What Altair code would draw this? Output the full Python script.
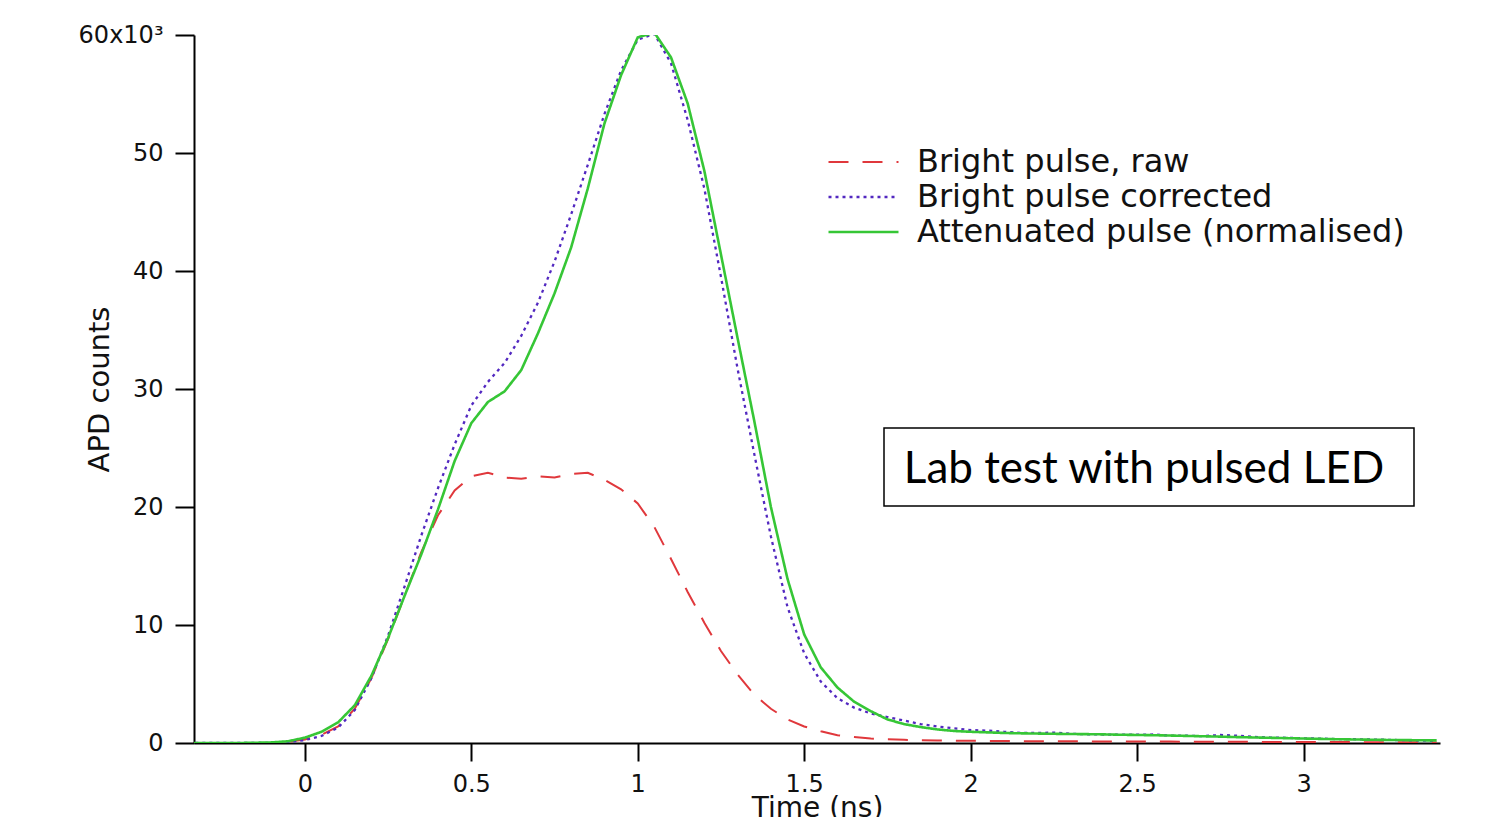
import altair as alt
import pandas as pd

# ---- data (counts in units of 10^3) ----
time_ns = [-0.35, -0.30, -0.25, -0.20, -0.15, -0.10, -0.05, 0.00, 0.05, 0.10,
           0.15, 0.20, 0.25, 0.30, 0.35, 0.40, 0.45, 0.50, 0.55, 0.60,
           0.65, 0.70, 0.75, 0.80, 0.85, 0.90, 0.95, 1.00, 1.05, 1.10,
           1.15, 1.20, 1.25, 1.30, 1.35, 1.40, 1.45, 1.50, 1.55, 1.60,
           1.65, 1.70, 1.75, 1.80, 1.85, 1.90, 1.95, 2.00, 2.05, 2.10,
           2.15, 2.20, 2.25, 2.30, 2.35, 2.40, 2.45, 2.50, 2.55, 2.60,
           2.65, 2.70, 2.75, 2.80, 2.85, 2.90, 2.95, 3.00, 3.05, 3.10,
           3.15, 3.20, 3.25, 3.30, 3.35, 3.40]

raw = [0.0, 0.0, 0.0, 0.0, 0.0, 0.02, 0.1, 0.3, 0.7, 1.4,
       2.9, 5.5, 8.8, 12.5, 16.2, 19.3, 21.4, 22.6, 22.9, 22.5,
       22.4, 22.6, 22.5, 22.8, 22.9, 22.3, 21.5, 20.3, 18.3, 15.6,
       12.8, 10.2, 7.8, 5.8, 4.1, 2.9, 2.0, 1.4, 1.0, 0.65,
       0.5, 0.38, 0.32, 0.27, 0.24, 0.22, 0.2, 0.19, 0.18, 0.17,
       0.16, 0.15, 0.15, 0.14, 0.14, 0.13, 0.13, 0.12, 0.12, 0.12,
       0.11, 0.11, 0.1, 0.1, 0.1, 0.09, 0.09, 0.09, 0.08, 0.08,
       0.08, 0.07, 0.07, 0.06, 0.06, 0.05]

corrected = [0.0, 0.0, 0.0, 0.0, 0.0, 0.02, 0.08, 0.25, 0.6, 1.3,
             2.8, 5.5, 9.1, 13.3, 17.6, 21.6, 25.3, 28.6, 30.6, 32.2,
             34.5, 37.3, 40.8, 44.8, 49.0, 53.3, 57.0, 59.6, 60.1, 57.6,
             52.8, 47.0, 39.5, 31.7, 24.5, 17.5, 11.5, 7.6, 5.2, 3.8,
             3.0, 2.5, 2.2, 1.9, 1.6, 1.4, 1.25, 1.1, 1.05, 0.95,
             0.85, 0.85, 0.88, 0.78, 0.74, 0.72, 0.7, 0.7, 0.72, 0.62,
             0.62, 0.58, 0.68, 0.62, 0.52, 0.46, 0.44, 0.4, 0.37, 0.33,
             0.32, 0.3, 0.27, 0.24, 0.21, 0.18]

attenuated = [0.0, 0.0, 0.0, 0.0, 0.02, 0.05, 0.15, 0.45, 0.95, 1.75,
              3.2, 5.7, 8.9, 12.5, 16.0, 19.8, 23.9, 27.1, 28.9, 29.8,
              31.6, 34.7, 38.1, 42.0, 47.0, 52.5, 56.6, 59.8, 60.2, 58.1,
              54.2, 48.5, 41.4, 34.3, 27.3, 20.0, 13.9, 9.2, 6.4, 4.7,
              3.5, 2.7, 2.0, 1.6, 1.35, 1.15, 1.02, 0.95, 0.9, 0.85,
              0.82, 0.8, 0.78, 0.76, 0.75, 0.73, 0.7, 0.68, 0.66, 0.63,
              0.6, 0.57, 0.54, 0.5, 0.47, 0.44, 0.41, 0.38, 0.35, 0.32,
              0.3, 0.28, 0.26, 0.25, 0.23, 0.22]

series_names = ["Bright pulse, raw", "Bright pulse corrected", "Attenuated pulse (normalised)"]
series_colors = ["#e0383c", "#5228c0", "#36c636"]
series_dashes = [[20, 14], [3, 4], [1, 0]]
series_widths = [2.0, 2.6, 2.2]
x_ticks = [0, 0.5, 1, 1.5, 2, 2.5, 3]
y_ticks = [0, 10, 20, 30, 40, 50, 60]
annotation_text = ["Lab test with pulsed LED"]

rows = []
for k, (name, vals) in enumerate(zip(series_names, [raw, corrected, attenuated])):
    for t, v in zip(time_ns, vals):
        rows.append({"time": t, "counts": v, "series": name, "k": k})
df = pd.DataFrame(rows)

FONT = "DejaVu Sans"
PLOT_W, PLOT_H = 1246, 708


def legend_spec():
    return alt.Legend(title=None, orient="none", legendX=633, legendY=112,
                      symbolType="stroke", symbolSize=4900,
                      symbolStrokeWidth=2, labelFontSize=32,
                      labelFont=FONT, labelColor="#111",
                      labelLimit=0, clipHeight=30, rowPadding=3,
                      labelOffset=17, padding=0, symbolOffset=0)


lines = alt.Chart(df).mark_line(clip=True).encode(
    x=alt.X("time:Q",
            scale=alt.Scale(domain=[-0.333, 3.41], nice=False, zero=False),
            axis=alt.Axis(values=x_ticks, title="Time (ns)", labelPadding=11,
                          tickSize=18, titleFontSize=28, titleY=51,
                          titleBaseline="top", format="~g")),
    y=alt.Y("counts:Q",
            scale=alt.Scale(domain=[0, 60], nice=False),
            axis=alt.Axis(values=y_ticks, title="APD counts", labelPadding=12,
                          tickSize=19, titleAngle=-90, titleX=-86, titleY=354,
                          titleBaseline="alphabetic", titleAlign="center",
                          titleFontSize=29,
                          labelExpr="datum.value == 60 ? '60x10\u00b3' : datum.label")),
    color=alt.Color("series:N",
                    scale=alt.Scale(domain=series_names, range=series_colors),
                    legend=legend_spec()),
    strokeDash=alt.StrokeDash("series:N",
                              scale=alt.Scale(domain=series_names, range=series_dashes),
                              legend=legend_spec()),
    strokeWidth=alt.StrokeWidth("series:N",
                                scale=alt.Scale(domain=series_names, range=series_widths),
                                legend=None),
    order=alt.Order("k:Q"),
    detail="series:N",
)

ann_df = pd.DataFrame({"label": annotation_text})
box = alt.Chart(ann_df).mark_rect(fill="white", stroke="black", strokeWidth=1.5).encode(
    x=alt.value(690), x2=alt.value(1220), y=alt.value(393), y2=alt.value(471))
txt = alt.Chart(ann_df).mark_text(font="Lato", fontSize=44, align="center",
                                  baseline="middle", color="black").encode(
    x=alt.value(950), y=alt.value(435), text="label:N")

chart = alt.layer(lines, box, txt).properties(
    width=PLOT_W, height=PLOT_H,
    autosize=alt.AutoSizeParams(type="none"),
    padding={"left": 186, "top": 27, "right": 46, "bottom": 74},
    background="white",
).configure_view(stroke=None).configure_axis(
    grid=False, domainColor="black", domainWidth=2, tickColor="black", tickWidth=2,
    labelColor="#111", labelFont=FONT, labelFontSize=24,
    titleColor="#111", titleFont=FONT, titleFontWeight="normal",
)

chart.save("out.html", embed_options={"renderer": "svg", "actions": False})
